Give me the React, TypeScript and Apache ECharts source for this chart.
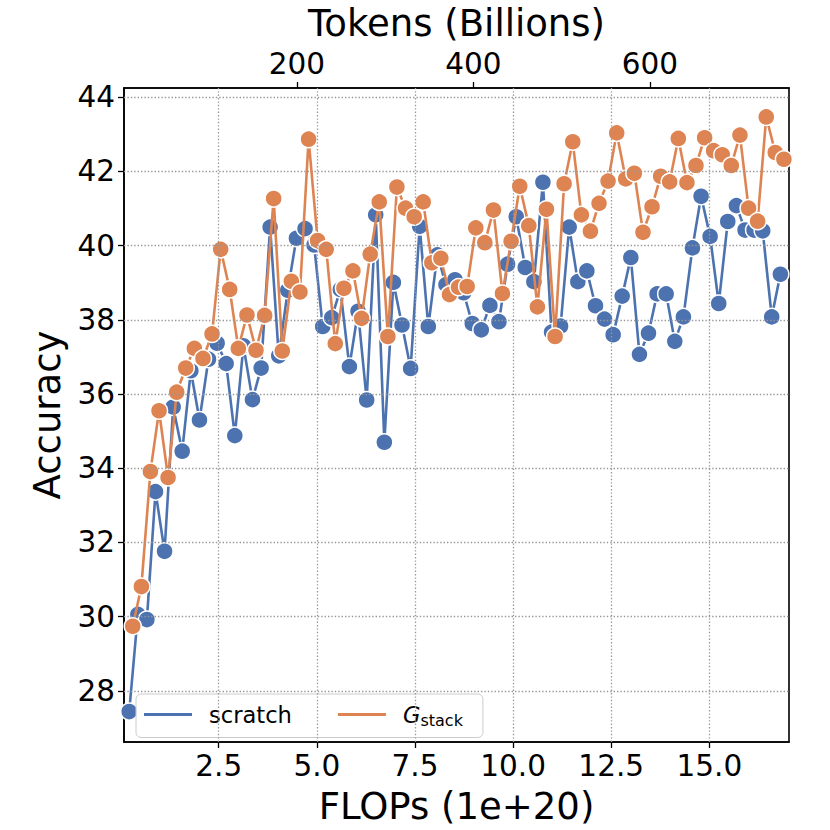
import React, { useEffect, useRef } from "react";
import * as echarts from "echarts";

const FONT = "DejaVu Sans";
const BLUE = "#4C72B0";
const ORANGE = "#DD8452";

// FLOPs (1e+20) positions of the checkpoints
const scratchX = [
  0.22, 0.44, 0.67, 0.89, 1.12, 1.34, 1.57, 1.79, 2.01, 2.24,
  2.46, 2.69, 2.91, 3.13, 3.36, 3.58, 3.81, 4.03, 4.26, 4.48,
  4.70, 4.93, 5.15, 5.38, 5.60, 5.83, 6.05, 6.27, 6.50, 6.72,
  6.95, 7.17, 7.39, 7.62, 7.84, 8.07, 8.29, 8.52, 8.74, 8.96,
  9.19, 9.41, 9.64, 9.86, 10.08, 10.31, 10.53, 10.76, 10.98, 11.21,
  11.43, 11.65, 11.88, 12.10, 12.33, 12.55, 12.78, 13.00, 13.22, 13.45,
  13.67, 13.90, 14.12, 14.34, 14.57, 14.79, 15.02, 15.24, 15.47, 15.69,
  15.91, 16.14, 16.36, 16.59, 16.81,
];
const scratchY = [
  27.44, 30.06, 29.92, 33.37, 31.76, 35.65, 34.46, 36.63, 35.30, 36.94,
  37.37, 36.82, 34.88, 37.30, 35.85, 36.70, 40.50, 37.03, 38.80, 40.20,
  40.46, 40.02, 37.82, 38.06, 38.82, 36.74, 38.23, 35.84, 40.83, 34.70,
  39.01, 37.86, 36.69, 40.52, 37.82, 39.75, 38.95, 39.08, 38.73, 37.90,
  37.73, 38.39, 37.95, 39.50, 40.78, 39.41, 39.03, 41.71, 37.67, 37.83,
  40.50, 39.03, 39.32, 38.38, 38.02, 37.60, 38.64, 39.68, 37.07, 37.64,
  38.70, 38.70, 37.42, 38.08, 39.94, 41.33, 40.25, 38.44, 40.65, 41.08,
  40.42, 40.42, 40.40, 38.08, 39.23,
];
const gstackX = [
  0.31, 0.53, 0.76, 0.98, 1.21, 1.43, 1.66, 1.88, 2.10, 2.33,
  2.55, 2.78, 3.00, 3.22, 3.45, 3.67, 3.90, 4.12, 4.35, 4.57,
  4.79, 5.02, 5.24, 5.47, 5.69, 5.92, 6.14, 6.36, 6.59, 6.81,
  7.04, 7.26, 7.48, 7.71, 7.93, 8.16, 8.38, 8.61, 8.83, 9.05,
  9.28, 9.50, 9.73, 9.95, 10.17, 10.40, 10.62, 10.85, 11.07, 11.30,
  11.52, 11.74, 11.97, 12.19, 12.42, 12.64, 12.87, 13.09, 13.31, 13.54,
  13.76, 13.99, 14.21, 14.43, 14.66, 14.88, 15.11, 15.33, 15.56, 15.78,
  16.00, 16.23, 16.45, 16.68, 16.90,
];
const gstackY = [
  29.74, 30.81, 33.91, 35.55, 33.75, 36.05, 36.70, 37.23, 36.96, 37.62,
  39.90, 38.82, 37.23, 38.13, 37.18, 38.12, 41.27, 37.16, 39.04, 38.75,
  42.87, 40.14, 39.90, 37.36, 38.85, 39.32, 38.04, 39.77, 41.18, 37.55,
  41.58, 41.01, 40.78, 41.18, 39.54, 39.66, 38.68, 38.88, 38.90, 40.48,
  40.08, 40.96, 38.71, 40.12, 41.60, 40.54, 38.35, 40.98, 37.55, 41.67,
  42.80, 40.83, 40.39, 41.14, 41.74, 43.04, 41.80, 41.95, 40.36, 41.05,
  41.87, 41.72, 42.89, 41.70, 42.16, 42.91, 42.56, 42.45, 42.16, 42.98,
  41.01, 40.66, 43.47, 42.51, 42.33,
];

const flopTicks = [2.5, 5.0, 7.5, 10.0, 12.5, 15.0];
const tokenTicks = [200, 400, 600];
const accTicks = [28, 30, 32, 34, 36, 38, 40, 42, 44];

const X_MIN = 0.087;
const X_MAX = 17.03;
const TOKENS_PER_FLOP = 44.5;
const Y_MIN = 26.62;
const Y_MAX = 44.25;

export default function App() {
  const ref = useRef<HTMLDivElement>(null);
  useEffect(() => {
    if (!ref.current) return;
    const chart = echarts.init(ref.current, undefined, { renderer: "svg" });
    const tickStyle = { color: "#000", width: 1.3 };
    const option: any = {
      animation: false,
      textStyle: { fontFamily: FONT },
      grid: {
        left: 124,
        top: 83,
        width: 665,
        height: 664,
        show: true,
        borderColor: "#000",
        borderWidth: 1.6,
        backgroundColor: "transparent",
      },
      legend: {
        data: ["scratch", "Gstack"],
        left: 136,
        top: 694,
        orient: "horizontal",
        icon: "rect",
        itemWidth: 48,
        itemHeight: 3,
        itemGap: 46,
        padding: [9, 20, 9, 8],
        backgroundColor: "rgba(255,255,255,0.8)",
        borderColor: "#cccccc",
        borderWidth: 1,
        borderRadius: 5,
        itemStyle: { borderWidth: 0 },
        formatter: (name: string) => (name === "Gstack" ? "{g|G}{s|stack}" : name),
        textStyle: {
          fontFamily: FONT,
          fontSize: 22.6,
          color: "#000",
          padding: [0, 0, 0, 12],
          rich: {
            g: { fontFamily: FONT, fontSize: 22.6, fontStyle: "italic", color: "#000" },
            s: { fontFamily: FONT, fontSize: 16, color: "#000", padding: [12, 0, 0, 0] },
          },
        },
      },
      xAxis: [
        {
          type: "value",
          position: "bottom",
          min: X_MIN,
          max: X_MAX,
          name: "FLOPs (1e+20)",
          nameLocation: "middle",
          nameGap: 46,
          nameTextStyle: { fontFamily: FONT, fontSize: 37, color: "#000" },
          axisLine: { show: true, onZero: false, lineStyle: { color: "#000", width: 1.6 } },
          splitLine: { show: false },
          axisTick: { show: true, customValues: flopTicks, length: 6, lineStyle: tickStyle },
          axisLabel: {
            customValues: flopTicks,
            formatter: (v: number) => v.toFixed(1),
            fontFamily: FONT,
            fontSize: 29.5,
            color: "#000",
            margin: 9,
          },
        },
        {
          type: "value",
          position: "top",
          min: X_MIN * TOKENS_PER_FLOP,
          max: X_MAX * TOKENS_PER_FLOP,
          name: "Tokens (Billions)",
          nameLocation: "middle",
          nameGap: 46,
          nameTextStyle: { fontFamily: FONT, fontSize: 37, color: "#000" },
          axisLine: { show: true, onZero: false, lineStyle: { color: "#000", width: 1.6 } },
          splitLine: { show: false },
          axisTick: { show: true, customValues: tokenTicks, length: 6, lineStyle: tickStyle },
          axisLabel: {
            customValues: tokenTicks,
            formatter: (v: number) => String(Math.round(v)),
            fontFamily: FONT,
            fontSize: 29.5,
            color: "#000",
            margin: 9,
          },
        },
      ],
      yAxis: {
        type: "value",
        min: Y_MIN,
        max: Y_MAX,
        name: "Accuracy",
        nameLocation: "middle",
        nameGap: 58,
        nameTextStyle: { fontFamily: FONT, fontSize: 37, color: "#000" },
        axisLine: { show: true, onZero: false, lineStyle: { color: "#000", width: 1.6 } },
        splitLine: { show: false },
        axisTick: { show: true, customValues: accTicks, length: 6, lineStyle: tickStyle },
        axisLabel: {
          customValues: accTicks,
          formatter: (v: number) => String(Math.round(v)),
          fontFamily: FONT,
          fontSize: 29.5,
          color: "#000",
          margin: 9,
        },
      },
      series: [
        {
          type: "line",
          name: "gridlines",
          data: [],
          xAxisIndex: 0,
          yAxisIndex: 0,
          silent: true,
          z: 1,
          markLine: {
            silent: true,
            symbol: ["none", "none"],
            label: { show: false },
            lineStyle: { type: [1.4, 2], color: "#999999", width: 1.3 },
            emphasis: { disabled: true },
            data: [
              ...flopTicks.map((v) => ({ xAxis: v })),
              ...accTicks.map((v) => ({ yAxis: v })),
            ],
          },
        },
        {
          type: "line",
          name: "scratch",
          xAxisIndex: 0,
          yAxisIndex: 0,
          data: scratchX.map((x, i) => [x, scratchY[i]]),
          symbol: "circle",
          symbolSize: 17,
          showAllSymbol: true,
          itemStyle: { color: BLUE, borderColor: "#fff", borderWidth: 1.5 },
          lineStyle: { color: BLUE, width: 2.6 },
          emphasis: { disabled: true },
          z: 3,
        },
        {
          type: "line",
          name: "Gstack",
          xAxisIndex: 0,
          yAxisIndex: 0,
          data: gstackX.map((x, i) => [x, gstackY[i]]),
          symbol: "circle",
          symbolSize: 17,
          showAllSymbol: true,
          itemStyle: { color: ORANGE, borderColor: "#fff", borderWidth: 1.5 },
          lineStyle: { color: ORANGE, width: 2.6 },
          emphasis: { disabled: true },
          z: 4,
        },
      ],
    };
    chart.setOption(option);
    return () => chart.dispose();
  }, []);
  return (
    <div
      ref={ref}
      style={{ position: "fixed", left: 0, top: 0, width: 830, height: 830, background: "#fff" }}
    />
  );
}
